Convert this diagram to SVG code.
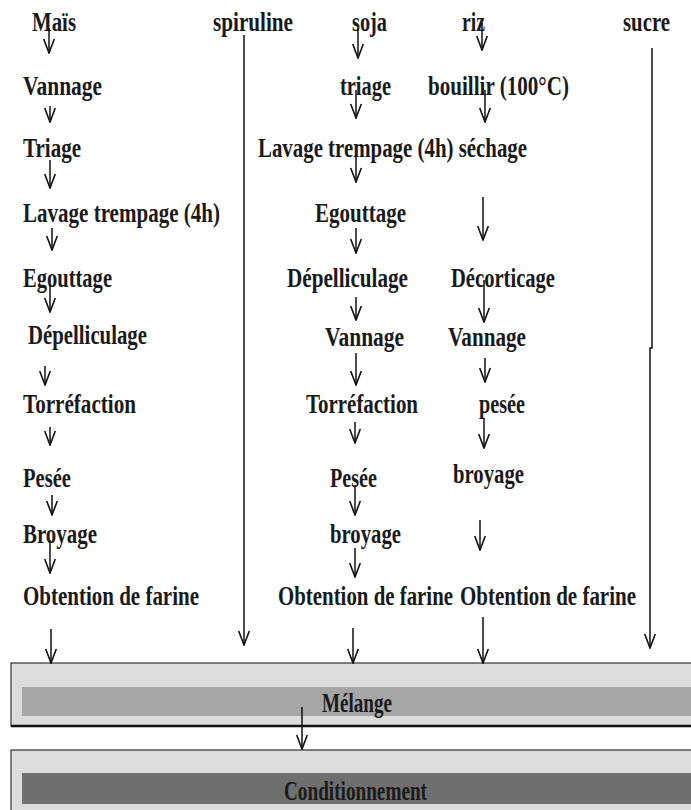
<svg xmlns="http://www.w3.org/2000/svg" width="691" height="810" viewBox="0 0 691 810">
<style>
.t{font-family:"Liberation Serif","Times New Roman",serif;font-weight:bold;font-size:27px;fill:#1a1a1a}
.c line,.c path{stroke:#111;stroke-width:1.5;fill:none}
</style>
<defs>
<marker id="ah" markerUnits="userSpaceOnUse" markerWidth="17" markerHeight="14" viewBox="-16 -7 17 14" refX="0" refY="0" orient="auto">
<path d="M-14,-5.3 L0,0 L-14,5.3" fill="none" stroke="#111" stroke-width="1.6"/>
</marker>
</defs>
<rect width="691" height="810" fill="#fff"/>

<g id="box-melange">
<rect x="11" y="663" width="690" height="63" fill="#dcdcdc" stroke="#333" stroke-width="1.2"/>
<line x1="11" y1="726" x2="691" y2="726" stroke="#111" stroke-width="2.5"/>
<rect x="22" y="687" width="669" height="29" fill="#a6a6a6"/>
<text class="t" x="322" y="712" textLength="70" lengthAdjust="spacingAndGlyphs">Mélange</text>
</g>
<g id="box-conditionnement">
<rect x="11" y="750" width="690" height="70" fill="#dcdcdc" stroke="#333" stroke-width="1.2"/>
<rect x="22" y="773" width="669" height="31" fill="#6f6f6f"/>
<text class="t" x="284" y="800" textLength="143" lengthAdjust="spacingAndGlyphs">Conditionnement</text>
</g>

<g id="col-mais">
<text class="t" x="32" y="31" textLength="44" lengthAdjust="spacingAndGlyphs">Maïs</text>
<text class="t" x="23" y="95" textLength="79" lengthAdjust="spacingAndGlyphs">Vannage</text>
<text class="t" x="23" y="157" textLength="58" lengthAdjust="spacingAndGlyphs">Triage</text>
<text class="t" x="23" y="222" textLength="197" lengthAdjust="spacingAndGlyphs">Lavage trempage (4h)</text>
<text class="t" x="23" y="287" textLength="89" lengthAdjust="spacingAndGlyphs">Egouttage</text>
<text class="t" x="28" y="344" textLength="119" lengthAdjust="spacingAndGlyphs">Dépelliculage</text>
<text class="t" x="23" y="413" textLength="113" lengthAdjust="spacingAndGlyphs">Torréfaction</text>
<text class="t" x="23" y="487" textLength="48" lengthAdjust="spacingAndGlyphs">Pesée</text>
<text class="t" x="23" y="543" textLength="74" lengthAdjust="spacingAndGlyphs">Broyage</text>
<text class="t" x="23" y="605" textLength="176" lengthAdjust="spacingAndGlyphs">Obtention de farine</text>
</g>

<g id="col-spiruline">
<text class="t" x="213" y="31" textLength="80" lengthAdjust="spacingAndGlyphs">spiruline</text>
</g>

<g id="col-soja">
<text class="t" x="352" y="31" textLength="35" lengthAdjust="spacingAndGlyphs">soja</text>
<text class="t" x="340" y="95" textLength="51" lengthAdjust="spacingAndGlyphs">triage</text>
<text class="t" x="258" y="157" textLength="269" lengthAdjust="spacingAndGlyphs">Lavage trempage (4h) séchage</text>
<text class="t" x="315" y="222" textLength="91" lengthAdjust="spacingAndGlyphs">Egouttage</text>
<text class="t" x="287" y="287" textLength="121" lengthAdjust="spacingAndGlyphs">Dépelliculage</text>
<text class="t" x="325" y="346" textLength="79" lengthAdjust="spacingAndGlyphs">Vannage</text>
<text class="t" x="306" y="413" textLength="112" lengthAdjust="spacingAndGlyphs">Torréfaction</text>
<text class="t" x="330" y="487" textLength="47" lengthAdjust="spacingAndGlyphs">Pesée</text>
<text class="t" x="330" y="543" textLength="71" lengthAdjust="spacingAndGlyphs">broyage</text>
<text class="t" x="278" y="605" textLength="175" lengthAdjust="spacingAndGlyphs">Obtention de farine</text>
</g>

<g id="col-riz">
<text class="t" x="462" y="31" textLength="23" lengthAdjust="spacingAndGlyphs">riz</text>
<text class="t" x="428" y="95" textLength="141" lengthAdjust="spacingAndGlyphs">bouillir (100°C)</text>
<text class="t" x="451" y="287" textLength="104" lengthAdjust="spacingAndGlyphs">Décorticage</text>
<text class="t" x="448" y="346" textLength="78" lengthAdjust="spacingAndGlyphs">Vannage</text>
<text class="t" x="479" y="413" textLength="46" lengthAdjust="spacingAndGlyphs">pesée</text>
<text class="t" x="453" y="483" textLength="71" lengthAdjust="spacingAndGlyphs">broyage</text>
<text class="t" x="460" y="605" textLength="176" lengthAdjust="spacingAndGlyphs">Obtention de farine</text>
</g>

<g id="col-sucre">
<text class="t" x="623" y="31" textLength="47" lengthAdjust="spacingAndGlyphs">sucre</text>
</g>

<g id="connectors" class="c">
<line x1="49" y1="28" x2="49" y2="53" marker-end="url(#ah)"/>
<line x1="50" y1="106" x2="50" y2="122" marker-end="url(#ah)"/>
<line x1="50" y1="160" x2="50" y2="188" marker-end="url(#ah)"/>
<line x1="52" y1="228" x2="52" y2="250" marker-end="url(#ah)"/>
<line x1="50" y1="285" x2="50" y2="312" marker-end="url(#ah)"/>
<line x1="45" y1="366" x2="45" y2="385" marker-end="url(#ah)"/>
<line x1="50" y1="427" x2="50" y2="445" marker-end="url(#ah)"/>
<line x1="52" y1="495" x2="52" y2="515" marker-end="url(#ah)"/>
<line x1="50" y1="540" x2="50" y2="573" marker-end="url(#ah)"/>
<line x1="51" y1="629" x2="51" y2="663" marker-end="url(#ah)"/>

<line x1="244" y1="35" x2="244" y2="645" marker-end="url(#ah)"/>

<line x1="358" y1="28" x2="358" y2="58" marker-end="url(#ah)"/>
<line x1="356" y1="90" x2="356" y2="118" marker-end="url(#ah)"/>
<line x1="356" y1="155" x2="356" y2="182" marker-end="url(#ah)"/>
<line x1="356" y1="228" x2="356" y2="253" marker-end="url(#ah)"/>
<line x1="356" y1="297" x2="356" y2="320" marker-end="url(#ah)"/>
<line x1="356" y1="353" x2="356" y2="385" marker-end="url(#ah)"/>
<line x1="355" y1="422" x2="355" y2="443" marker-end="url(#ah)"/>
<line x1="355" y1="485" x2="355" y2="515" marker-end="url(#ah)"/>
<line x1="355" y1="548" x2="355" y2="577" marker-end="url(#ah)"/>
<line x1="353" y1="628" x2="353" y2="663" marker-end="url(#ah)"/>

<line x1="482" y1="23" x2="482" y2="50" marker-end="url(#ah)"/>
<line x1="485" y1="90" x2="485" y2="122" marker-end="url(#ah)"/>
<line x1="483" y1="197" x2="483" y2="240" marker-end="url(#ah)"/>
<line x1="484" y1="280" x2="484" y2="322" marker-end="url(#ah)"/>
<line x1="485" y1="358" x2="485" y2="382" marker-end="url(#ah)"/>
<line x1="484" y1="418" x2="484" y2="448" marker-end="url(#ah)"/>
<line x1="480" y1="520" x2="480" y2="550" marker-end="url(#ah)"/>
<line x1="483" y1="617" x2="483" y2="663" marker-end="url(#ah)"/>

<path d="M652,48 V348 H650 V648" marker-end="url(#ah)"/>

<line x1="302" y1="707" x2="302" y2="749" marker-end="url(#ah)"/>
</g>
</svg>
